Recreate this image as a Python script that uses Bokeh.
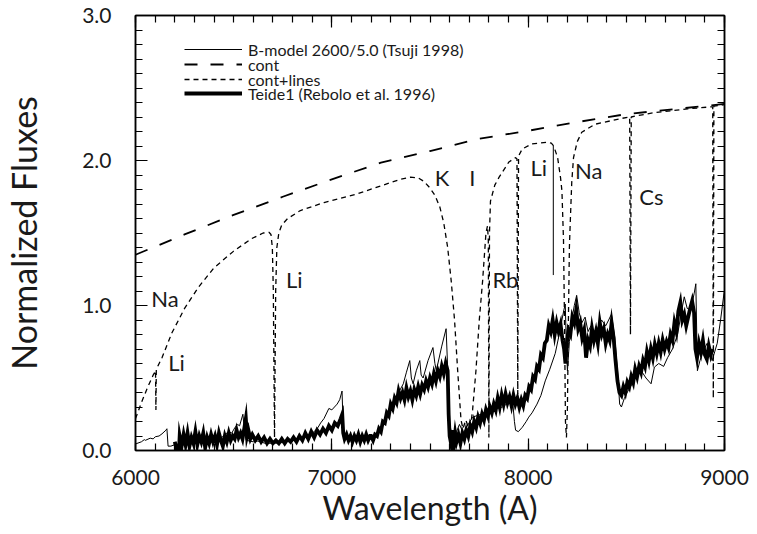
from bokeh.plotting import figure
from bokeh.models import (LinearAxis, FixedTicker, Range1d, Legend, LegendItem,
                          ColumnDataSource, PrintfTickFormatter, CustomJSTickFormatter)
from bokeh.embed import file_html
from bokeh.resources import INLINE
from bokeh.core.properties import value

FONT = "Lato"
INK = "#1a1a1a"

# ---------------- data ----------------
cont_wave = [6000, 6250, 6500, 6750, 7000, 7250, 7500, 7750, 8000, 8250, 8500, 8750, 9000]
cont_flux = [1.35, 1.49, 1.625, 1.75, 1.87, 1.985, 2.065, 2.15, 2.205, 2.265, 2.32, 2.355, 2.39]

lines_wave = [6000, 6030, 6060, 6090, 6102, 6104, 6106, 6135, 6185, 6250, 6320, 6400, 6500,
              6590, 6650, 6680, 6690, 6697, 6702, 6705, 6708, 6711, 6714, 6720, 6730, 6745,
              6775, 6840, 6960, 7130, 7260, 7350, 7400, 7440, 7470, 7500, 7525, 7550, 7570,
              7590, 7608, 7625, 7641, 7658, 7668, 7682, 7699, 7708, 7717, 7734, 7751, 7768,
              7785, 7793, 7797, 7800, 7803, 7808, 7830, 7852, 7902, 7936, 7943, 7947, 7951,
              7970, 8020, 8096, 8118, 8130, 8150, 8165, 8172, 8180, 8185, 8190, 8195, 8200,
              8205, 8210, 8214, 8222, 8231, 8250, 8273, 8340, 8475, 8517, 8521, 8525, 8559,
              8643, 8812, 8929, 8940, 8943, 8946, 9000]
lines_flux = [0.22, 0.33, 0.43, 0.52, 0.55, 0.28, 0.56, 0.64, 0.81, 0.98, 1.125, 1.26, 1.375,
              1.46, 1.50, 1.505, 1.49, 1.40, 1.10, 0.60, 0.09, 0.60, 1.10, 1.40, 1.50, 1.555,
              1.60, 1.655, 1.71, 1.77, 1.83, 1.87, 1.885, 1.88, 1.855, 1.81, 1.76, 1.68, 1.57,
              1.40, 1.17, 0.90, 0.55, 0.21, 0.15, 0.21, 0.15, 0.18, 0.28, 0.55, 0.90, 1.17,
              1.50, 1.55, 1.45, 0.09, 1.50, 1.72, 1.83, 1.885, 1.99, 2.02, 2.01, 0.39, 2.03,
              2.08, 2.115, 2.126, 2.12, 2.10, 2.02, 1.88, 1.79, 1.45, 0.90, 0.20, 0.09, 0.30,
              0.90, 1.40, 1.56, 1.85, 2.02, 2.13, 2.195, 2.25, 2.29, 2.30, 0.80, 2.30, 2.31,
              2.33, 2.356, 2.37, 2.37, 0.36, 2.375, 2.385]

li8126_wave = [8128, 8128]
li8126_flux = [2.10, 1.21]

model_points = [
    (6000, 0.045), (6030, 0.06), (6045, 0.075), (6050, 0.07), (6075, 0.085), (6090, 0.08),
    (6101, 0.095), (6120, 0.10), (6135, 0.115), (6155, 0.14), (6160, 0.15), (6166, 0.03),
    (6180, 0.03), (6200, 0.04), (6230, 0.04), (6260, 0.06), (6300, 0.065), (6320, 0.07),
    (6350, 0.08), (6380, 0.085), (6400, 0.09), (6420, 0.10), (6440, 0.09), (6455, 0.11),
    (6475, 0.13), (6490, 0.12), (6505, 0.155), (6520, 0.18), (6530, 0.17), (6547, 0.25),
    (6556, 0.12), (6564, 0.07), (6600, 0.06), (6623, 0.065), (6660, 0.05), (6700, 0.05),
    (6750, 0.055), (6800, 0.07), (6825, 0.08), (6860, 0.09), (6892, 0.11), (6910, 0.13),
    (6930, 0.16), (6943, 0.19), (6960, 0.22), (6985, 0.29), (7000, 0.28), (7027, 0.32),
    (7040, 0.35), (7052, 0.41), (7058, 0.15), (7062, 0.09), (7100, 0.08), (7150, 0.07),
    (7200, 0.08), (7229, 0.10), (7263, 0.18), (7290, 0.26), (7313, 0.32), (7340, 0.40),
    (7364, 0.46), (7380, 0.54), (7397, 0.62), (7405, 0.50), (7414, 0.46), (7430, 0.55),
    (7448, 0.62), (7455, 0.52), (7465, 0.50), (7490, 0.62), (7515, 0.71), (7525, 0.60),
    (7532, 0.55), (7560, 0.72), (7582, 0.84), (7592, 0.50), (7600, 0.18), (7616, 0.09),
    (7635, 0.13), (7650, 0.18), (7670, 0.12), (7690, 0.17), (7717, 0.23), (7760, 0.25),
    (7801, 0.28), (7840, 0.29), (7869, 0.30), (7900, 0.33), (7919, 0.37), (7930, 0.20),
    (7936, 0.14), (7950, 0.13), (7970, 0.16), (7990, 0.20), (8003, 0.23), (8020, 0.26),
    (8045, 0.32), (8065, 0.38), (8087, 0.48), (8110, 0.56), (8138, 0.67), (8155, 0.78),
    (8172, 0.90), (8182, 0.97), (8189, 1.01), (8195, 0.70), (8200, 0.55), (8210, 0.75),
    (8222, 0.90), (8235, 1.00), (8247, 1.07), (8260, 0.95), (8273, 0.88), (8290, 0.92),
    (8305, 0.82), (8320, 0.86), (8340, 0.78), (8355, 0.85), (8374, 0.90), (8395, 0.86),
    (8410, 0.90), (8424, 0.94), (8441, 0.78), (8455, 0.55), (8466, 0.32), (8475, 0.30),
    (8490, 0.36), (8508, 0.41), (8530, 0.46), (8555, 0.52), (8576, 0.55), (8600, 0.50),
    (8626, 0.46), (8643, 0.575), (8665, 0.60), (8690, 0.58), (8710, 0.64), (8735, 0.70),
    (8761, 0.80), (8780, 0.95), (8795, 1.06), (8810, 0.98), (8828, 0.97), (8845, 1.08),
    (8854, 1.15), (8862, 0.55), (8875, 0.62), (8890, 0.68), (8912, 0.74), (8925, 0.68),
    (8937, 0.62), (8950, 0.68), (8963, 0.74), (8980, 0.90), (8997, 1.08), (9020, 1.25),
    (9050, 1.40), (9080, 1.55), (9100, 1.64)]

teide_points = [
    (6200, 0.06), (6210, 0.01), (6220, -0.04), (6225, 0.10), (6235, 0.03), (6245, 0.11),
    (6255, 0.04), (6265, 0.12), (6275, 0.03), (6285, 0.09), (6295, 0.05), (6305, 0.13),
    (6315, 0.04), (6325, 0.10), (6335, 0.06), (6345, 0.12), (6355, 0.02), (6365, 0.09),
    (6375, 0.05), (6385, 0.11), (6395, 0.06), (6405, 0.10), (6415, 0.04), (6425, 0.12),
    (6435, 0.07), (6445, 0.03), (6455, 0.10), (6465, 0.06), (6475, 0.12), (6485, 0.07),
    (6495, 0.10), (6505, 0.08), (6515, 0.14), (6525, 0.09), (6535, 0.12), (6545, 0.08),
    (6555, 0.16), (6562, 0.22), (6568, 0.10), (6575, 0.14), (6585, 0.08), (6595, 0.11),
    (6610, 0.07), (6625, 0.10), (6640, 0.06), (6655, 0.09), (6670, 0.05), (6685, 0.08),
    (6700, 0.05), (6715, 0.07), (6730, 0.05), (6745, 0.08), (6760, 0.05), (6775, 0.08),
    (6790, 0.06), (6805, 0.09), (6820, 0.06), (6835, 0.10), (6850, 0.07), (6865, 0.12),
    (6880, 0.08), (6895, 0.13), (6910, 0.09), (6925, 0.14), (6940, 0.11), (6955, 0.15),
    (6970, 0.12), (6985, 0.17), (7000, 0.14), (7015, 0.19), (7030, 0.17), (7045, 0.22),
    (7053, 0.25), (7058, 0.12), (7065, 0.08), (7075, 0.11), (7085, 0.07), (7095, 0.10),
    (7105, 0.06), (7115, 0.10), (7125, 0.07), (7135, 0.11), (7145, 0.06), (7155, 0.10),
    (7165, 0.07), (7175, 0.11), (7185, 0.07), (7195, 0.10),
    (7200, 0.10), (7210, 0.07), (7220, 0.11), (7230, 0.10), (7240, 0.15), (7250, 0.13),
    (7260, 0.20), (7270, 0.19), (7280, 0.26), (7290, 0.24), (7300, 0.32), (7310, 0.29),
    (7320, 0.36), (7330, 0.33), (7340, 0.41), (7350, 0.36), (7360, 0.40), (7370, 0.35),
    (7380, 0.43), (7390, 0.37), (7400, 0.41), (7410, 0.35), (7420, 0.42), (7430, 0.38),
    (7440, 0.44), (7450, 0.39), (7460, 0.45), (7470, 0.42), (7480, 0.48), (7490, 0.44),
    (7500, 0.50), (7510, 0.46), (7520, 0.53), (7530, 0.48), (7540, 0.55), (7550, 0.51),
    (7560, 0.58), (7570, 0.53), (7580, 0.60), (7590, 0.55), (7595, 0.25), (7600, 0.10),
    (7607, 0.05), (7614, 0.14), (7621, 0.04), (7628, 0.12), (7635, 0.06), (7645, 0.11),
    (7655, 0.05), (7665, 0.12), (7675, 0.08), (7685, 0.14), (7695, 0.10), (7705, 0.17),
    (7715, 0.13), (7725, 0.20), (7735, 0.16), (7745, 0.23), (7755, 0.19), (7765, 0.25),
    (7775, 0.21), (7785, 0.28), (7795, 0.24), (7805, 0.30), (7815, 0.26), (7825, 0.32),
    (7835, 0.28), (7845, 0.36), (7855, 0.30), (7865, 0.38), (7875, 0.32), (7885, 0.39),
    (7895, 0.33), (7905, 0.37), (7915, 0.31), (7925, 0.38), (7935, 0.32), (7945, 0.36),
    (7955, 0.30), (7965, 0.35), (7975, 0.31), (7985, 0.38), (7995, 0.36), (8005, 0.44),
    (8015, 0.42), (8025, 0.51), (8035, 0.49), (8045, 0.58), (8055, 0.56), (8065, 0.66),
    (8075, 0.64), (8085, 0.74), (8095, 0.76), (8105, 0.86), (8115, 0.82), (8125, 0.90),
    (8135, 0.80), (8145, 0.88), (8155, 0.82), (8165, 0.87), (8175, 0.76), (8183, 0.70),
    (8190, 0.60), (8197, 0.74), (8205, 0.83), (8215, 0.80), (8225, 0.92), (8235, 0.88),
    (8245, 0.97), (8255, 0.84), (8265, 0.88), (8275, 0.78), (8285, 0.83), (8295, 0.64),
    (8305, 0.76), (8315, 0.72), (8325, 0.84), (8335, 0.76), (8345, 0.82), (8355, 0.74),
    (8365, 0.88), (8375, 0.80), (8385, 0.84), (8395, 0.74), (8405, 0.80), (8415, 0.76),
    (8425, 0.88), (8435, 0.78), (8445, 0.62), (8455, 0.48), (8465, 0.40), (8475, 0.38),
    (8485, 0.44), (8495, 0.40), (8505, 0.47), (8515, 0.44), (8525, 0.51), (8535, 0.47),
    (8545, 0.56), (8555, 0.51), (8565, 0.58), (8575, 0.54), (8585, 0.62), (8595, 0.58),
    (8605, 0.68), (8615, 0.62), (8625, 0.70), (8635, 0.64), (8645, 0.73), (8655, 0.67),
    (8665, 0.74), (8675, 0.68), (8685, 0.76), (8695, 0.70), (8705, 0.75), (8715, 0.71),
    (8725, 0.80), (8735, 0.76), (8745, 0.88), (8755, 0.82), (8765, 0.96), (8775, 1.02),
    (8785, 0.90), (8795, 0.94), (8805, 0.86), (8815, 0.92), (8825, 0.98), (8835, 1.03),
    (8845, 0.95), (8852, 0.70), (8860, 0.64), (8870, 0.74), (8880, 0.68), (8890, 0.76),
    (8900, 0.66), (8910, 0.63), (8920, 0.72), (8930, 0.66), (8938, 0.70)]

model_wave = [w for w, f in model_points]
model_flux = [f for w, f in model_points]
teide_wave = [w for w, f in teide_points]
teide_flux = [f for w, f in teide_points]

label_text = ["Na", "Li", "Li", "K", "I", "Rb", "Li", "Na", "Cs"]
label_wave = [6080, 6167, 6766, 7524, 7700, 7818, 8012, 8239, 8566]
label_flux = [1.05, 0.61, 1.18, 1.88, 1.88, 1.18, 1.95, 1.93, 1.75]

legend_labels = ["B-model 2600/5.0 (Tsuji 1998)", "cont", "cont+lines",
                 "Teide1 (Rebolo et al. 1996)"]

x_major = [6000, 7000, 8000, 9000]
y_major = [0.0, 1.0, 2.0, 3.0]
x_title = "Wavelength (A)"
y_title = "Normalized Fluxes"

# ---------------- figure ----------------
p = figure(width=757, height=534, x_range=Range1d(6000, 9000), y_range=Range1d(0, 3),
           output_backend="svg", toolbar_location=None,
           min_border_left=130, min_border_right=33, min_border_top=15,
           min_border_bottom=84,
           x_axis_label=x_title, y_axis_label=y_title)
p.xgrid.visible = False
p.ygrid.visible = False
p.outline_line_color = "black"
p.outline_line_width = 1.5
p.background_fill_color = "white"
p.border_fill_color = "white"

xt = FixedTicker(ticks=x_major, minor_ticks=list(range(6000, 9001, 100)))
yt = FixedTicker(ticks=y_major, minor_ticks=[i / 10 for i in range(0, 31)])


def style_axis(ax, show_labels):
    ax.major_tick_in = 12
    ax.major_tick_out = 0
    ax.minor_tick_in = 7
    ax.minor_tick_out = 0
    ax.axis_line_color = "black"
    ax.axis_line_width = 1.5
    ax.major_tick_line_color = "black"
    ax.minor_tick_line_color = "black"
    ax.major_tick_line_width = 1.2
    ax.minor_tick_line_width = 1.2
    if show_labels:
        ax.major_label_text_font = FONT
        ax.major_label_text_font_size = "21px"
        ax.major_label_text_color = INK
        ax.axis_label_text_font = FONT
        ax.axis_label_text_font_style = "normal"
        ax.axis_label_text_color = INK
    else:
        ax.formatter = CustomJSTickFormatter(code="return ''")
        ax.major_label_text_font_size = "4px"
        ax.major_label_standoff = 0


for ax in p.xaxis:
    ax.ticker = xt
    style_axis(ax, True)
    ax.major_label_standoff = 19
    ax.axis_label_standoff = 0
    ax.axis_label_text_font_size = "32px"
for ax in p.yaxis:
    ax.ticker = yt
    style_axis(ax, True)
    ax.formatter = PrintfTickFormatter(format="%.1f")
    ax.major_label_standoff = 24
    ax.axis_label_standoff = 35
    ax.axis_label_text_font_size = "34px"

top = LinearAxis(ticker=xt)
style_axis(top, False)
p.add_layout(top, "above")
right = LinearAxis(ticker=yt)
style_axis(right, False)
p.add_layout(right, "right")

r_teide = p.line(teide_wave, teide_flux, line_color="black", line_width=3.8, line_join="miter")
r_model = p.line(model_wave, model_flux, line_color="black", line_width=1.0)
r_cont = p.line(cont_wave, cont_flux, line_color="black", line_width=1.8, line_dash="13 13")
r_lines = p.line(lines_wave, lines_flux, line_color="black", line_width=1.3, line_dash="5 4")
p.line(li8126_wave, li8126_flux, line_color="black", line_width=1.0)

src = ColumnDataSource(dict(x=label_wave, y=label_flux, t=label_text))
p.text("x", "y", text="t", source=src, text_font=value(FONT), text_font_size="22px",
       text_baseline="middle", text_align="left", text_color=INK)

# legend: one row per legend object so that rows are 15 px apart as in the reference
rows = [(legend_labels[0], r_model, 390), (legend_labels[1], r_cont, 375),
        (legend_labels[2], r_lines, 360), (legend_labels[3], r_teide, 346)]
for text, rend, vy in rows:
    lg = Legend(items=[LegendItem(label=text, renderers=[rend])], location=(49, vy))
    lg.glyph_width = 58
    lg.glyph_height = 22
    lg.label_height = 22
    lg.spacing = 0
    lg.padding = 0
    lg.margin = 0
    lg.label_standoff = 6
    lg.border_line_color = None
    lg.background_fill_alpha = 0
    lg.label_text_font = FONT
    lg.label_text_font_size = "16px"
    lg.label_text_color = INK
    p.add_layout(lg)

open("out.html", "w").write(file_html(p, INLINE))
